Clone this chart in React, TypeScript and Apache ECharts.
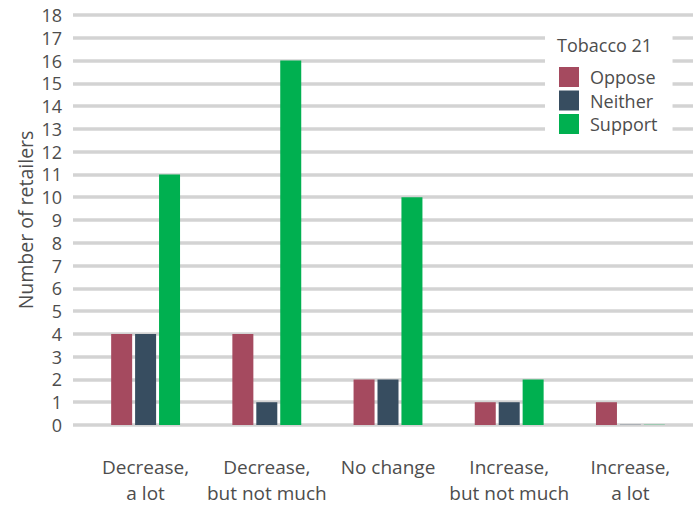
import React, { useEffect, useRef } from "react";
import * as echarts from "echarts";

const categories = [
  "Decrease,\na lot",
  "Decrease,\nbut not much",
  "No change",
  "Increase,\nbut not much",
  "Increase,\na lot",
];
const oppose = [4, 4, 2, 1, 1];
const neither = [4, 1, 2, 1, 0];
const support = [11, 16, 10, 2, 0];
const seriesNames = ["Oppose", "Neither", "Support"];
const colors = ["#a54a5f", "#374d60", "#00b050"];
const legendTitle = "Tobacco 21";
const yTitle = "Number of retailers";

const FONT = "Open Sans";
const TXT = "#4d4d4d";

function toData(vals: number[], color: string) {
  return vals.map((v) =>
    v === 0 ? { value: v, itemStyle: { color, opacity: 0.25 } } : v
  );
}

export default function App() {
  const ref = useRef<HTMLDivElement>(null);
  useEffect(() => {
    document.body.style.margin = "0";
    const chart = echarts.init(ref.current!, null, { renderer: "svg" });
    const allSeries = [oppose, neither, support].map((vals, i) => ({
      name: seriesNames[i],
      type: "bar",
      xAxisIndex: 1,
      yAxisIndex: 1,
      data: toData(vals, colors[i]),
      itemStyle: { color: colors[i] },
      barWidth: 21,
      barGap: "14%",
      barMinHeight: 1,
    }));
    chart.setOption({
      animation: false,
      backgroundColor: "#ffffff",
      textStyle: { fontFamily: FONT },
      grid: [
        { left: 73, right: 0, top: 15, bottom: 81, outerBoundsMode: "none", containLabel: false },
        { left: 85, right: 2, top: 15, bottom: 81, outerBoundsMode: "none", containLabel: false },
      ],
      xAxis: [
        { type: "value", gridIndex: 0, show: false, min: 0, max: 1 },
        {
          type: "category",
          gridIndex: 1,
          data: categories,
          axisLine: { show: false },
          axisTick: { show: false },
          axisLabel: {
            color: TXT,
            fontSize: 19,
            fontFamily: FONT,
            lineHeight: 26,
            margin: 28.5,
            interval: 0,
          },
        },
      ],
      yAxis: [
        {
          type: "value",
          gridIndex: 0,
          min: 0,
          max: 18,
          interval: 1,
          name: yTitle,
          nameLocation: "middle",
          nameGap: 38,
          nameMoveOverlap: false,
          nameTextStyle: { color: TXT, fontSize: 19.5, fontFamily: FONT },
          axisLine: { show: false },
          axisTick: { show: false },
          axisLabel: { color: TXT, fontSize: 18, fontFamily: FONT, margin: 11 },
          splitLine: { lineStyle: { color: "#d3d3d3", width: 3.5 } },
        },
        {
          type: "value",
          gridIndex: 1,
          min: 0,
          max: 18,
          interval: 1,
          show: false,
          splitLine: { show: false },
        },
      ],
      legend: {
        orient: "vertical",
        left: 545,
        top: 30,
        padding: [37, 15, 3, 14],
        backgroundColor: "#ffffff",
        itemWidth: 20,
        itemHeight: 20,
        itemGap: 3.5,
        icon: "rect",
        data: seriesNames,
        textStyle: { color: TXT, fontSize: 18, fontFamily: FONT, padding: [0, 0, 0, 6] },
      },
      graphic: [
        {
          type: "text",
          left: 557,
          top: 36,
          z: 100,
          style: {
            text: legendTitle,
            fill: TXT,
            fontSize: 18,
            fontFamily: FONT,
          },
        },
      ],
      series: allSeries,
    });
    return () => chart.dispose();
  }, []);
  return (
    <div
      ref={ref}
      style={{ position: "fixed", left: 0, top: 0, width: 693, height: 506 }}
    />
  );
}
